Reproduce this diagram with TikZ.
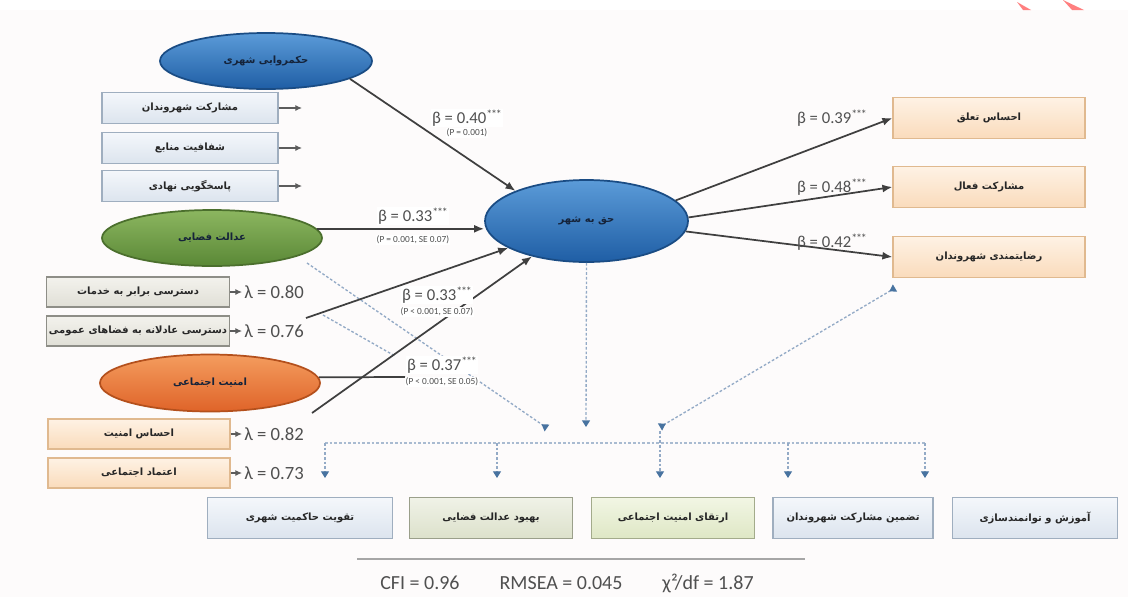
\documentclass[tikz,border=0pt]{standalone}
\usepackage{fontspec}
\setmainfont{Carlito}
\newfontfamily\fa[Script=Arabic]{DejaVu Sans}
\TeXXeTstate=1
\usetikzlibrary{shapes.geometric,arrows.meta}
\newdimen\pxu
\pxu=0.75pt
\newcommand{\fat}[1]{\beginR #1\endR}
\newcommand{\stars}{\raisebox{0.28em}{\fontsize{9}{9}\selectfont *\kern-0.1em*\kern-0.1em*}}
\definecolor{bgpink}{HTML}{FDFBFB}
\definecolor{txtdark}{HTML}{15233A}
\definecolor{txtgray}{HTML}{505050}
\definecolor{lingray}{HTML}{3F3F3F}
\definecolor{dotblue}{HTML}{93AAC6}
\definecolor{tipblue}{HTML}{4873A0}
\definecolor{blueT}{HTML}{5B9BD8}
\definecolor{blueB}{HTML}{1F5EA5}
\definecolor{blueD}{HTML}{1A4C84}
\definecolor{grnT}{HTML}{8CB660}
\definecolor{grnB}{HTML}{5A8836}
\definecolor{grnD}{HTML}{4B6F2D}
\definecolor{orgT}{HTML}{F49C5E}
\definecolor{orgB}{HTML}{DF6329}
\definecolor{orgD}{HTML}{B4501C}
\definecolor{lbT}{HTML}{F4F7FB}
\definecolor{lbB}{HTML}{DCE4EE}
\definecolor{lbD}{HTML}{9FAEBF}
\definecolor{gyT}{HTML}{F3F2ED}
\definecolor{gyB}{HTML}{E0DFD6}
\definecolor{gyD}{HTML}{8E8E87}
\definecolor{loT}{HTML}{FEF2E4}
\definecolor{loB}{HTML}{FADBBB}
\definecolor{loD}{HTML}{E0B98F}
\definecolor{lgT}{HTML}{F0F2E7}
\definecolor{lgB}{HTML}{DCE1CB}
\definecolor{lgD}{HTML}{9A9F8A}
\definecolor{lg2T}{HTML}{F2F6E4}
\definecolor{lg2B}{HTML}{DEE7C5}
\definecolor{lg2D}{HTML}{A3AB8B}
\definecolor{redmark}{HTML}{FF7F7F}
\tikzset{
  ell/.style={ellipse, inner sep=0pt, line width=1.3pt, text=txtdark,
    font=\fa\bfseries\fontsize{7.5}{8.5}\selectfont},
  blueell/.style={ell, draw=blueD, top color=blueT, bottom color=blueB},
  grnell/.style={ell, draw=grnD, top color=grnT, bottom color=grnB},
  orgell/.style={ell, draw=orgD, top color=orgT, bottom color=orgB},
  pbox/.style={rectangle, inner sep=0pt, line width=0.9pt, text=black!85,
    font=\fa\bfseries\fontsize{7.5}{9}\selectfont},
  lbbox/.style={pbox, draw=lbD, top color=lbT, bottom color=lbB},
  gybox/.style={pbox, draw=gyD, top color=gyT, bottom color=gyB},
  lobox/.style={pbox, draw=loD, top color=loT, bottom color=loB},
  lgbox/.style={pbox, draw=lgD, top color=lgT, bottom color=lgB},
  lg2box/.style={pbox, draw=lg2D, top color=lg2T, bottom color=lg2B},
  beta/.style={font=\fontsize{12.5}{14}\selectfont, text=txtgray, inner sep=1pt},
  betaw/.style={beta, fill=white},
  sub/.style={font=\fontsize{7}{8}\selectfont, text=txtgray, inner sep=0.6pt, fill=white},
  lam/.style={font=\fontsize{14}{16}\selectfont, text=txtgray, inner sep=0pt, anchor=west},
  arr/.style={draw=lingray, line width=1.3pt, -{Latex[length=7.5pt,width=6pt]}},
  smallarr/.style={draw=lingray!85, line width=0.8pt, -{Latex[length=5pt,width=4.5pt]}},
  plainln/.style={draw=lingray, line width=1.3pt},
  dotl/.style={draw=dotblue, line width=1pt, dash pattern=on 2pt off 1.5pt},
  dtip/.style={-{Triangle[length=5pt,width=6pt,color=tipblue]}},
  rtip/.style={-{Triangle[length=5pt,width=6pt,color=tipblue,reversed]}},
  brtip/.style={{Triangle[length=5pt,width=6pt,color=tipblue,reversed]}-{Triangle[length=5pt,width=6pt,color=tipblue,reversed]}},
}
\begin{document}
\begin{tikzpicture}[x=0.75pt,y=-0.75pt]
\useasboundingbox (0,0) rectangle (1128,597);
\fill[white] (0,0) rectangle (1128,597);
\fill[bgpink] (0,10) rectangle (1128,597);
\fill[redmark] (1017,2) -- (1031,10) -- (1023,10) -- cycle;
\fill[redmark] (1063,0) -- (1084,10) -- (1072,10) -- cycle;

% ---------- left column ----------
\node[blueell, minimum width=212\pxu, minimum height=56\pxu] (gov) at (266,61) {\fat{حکمروایی شهری}};
\node[lbbox, minimum width=176\pxu, minimum height=31\pxu] (b1) at (190,108) {\fat{مشارکت شهروندان}};
\node[lbbox, minimum width=176\pxu, minimum height=31\pxu] (b2) at (190,148) {\fat{شفافیت منابع}};
\node[lbbox, minimum width=176\pxu, minimum height=31\pxu] (b3) at (190,186) {\fat{پاسخگویی نهادی}};
\coordinate (b1e) at (302,108);
\coordinate (b2e) at (302,148);
\coordinate (b3e) at (302,186);

\node[grnell, minimum width=220\pxu, minimum height=56\pxu] (sj) at (212,238) {\fat{عدالت فضایی}};
\node[gybox, minimum width=183\pxu, minimum height=30\pxu] (g1) at (138,292) {\fat{دسترسی برابر به خدمات}};
\node[gybox, minimum width=183\pxu, minimum height=30\pxu] (g2) at (138,331) {\fat{دسترسی عادلانه به فضاهای عمومی}};
\node[lam] (l1) at (244,292) {λ = 0.80};
\node[lam] (l2) at (244,331) {λ = 0.76};

\node[orgell, minimum width=220\pxu, minimum height=57\pxu] (ss) at (210,383) {\fat{امنیت اجتماعی}};
\node[lobox, minimum width=182\pxu, minimum height=30\pxu] (o1) at (139,434) {\fat{احساس امنیت}};
\node[lobox, minimum width=182\pxu, minimum height=30\pxu] (o2) at (139,473) {\fat{اعتماد اجتماعی}};
\node[lam] (l3) at (244,434) {λ = 0.82};
\node[lam] (l4) at (244,473) {λ = 0.73};

% ---------- centre and right ----------
\node[blueell, minimum width=203\pxu, minimum height=82\pxu] (rc) at (586.5,221) {\fat{حق به شهر}};
\node[lobox, minimum width=192\pxu, minimum height=41\pxu] (r1) at (989,118) {\fat{احساس تعلق}};
\node[lobox, minimum width=192\pxu, minimum height=41\pxu] (r2) at (989,187) {\fat{مشارکت فعال}};
\node[lobox, minimum width=192\pxu, minimum height=41\pxu] (r3) at (989,257) {\fat{رضایتمندی شهروندان}};

% ---------- bottom row ----------
\node[lbbox, minimum width=185\pxu, minimum height=41\pxu] (k1) at (300,518) {\fat{تقویت حاکمیت شهری}};
\node[lgbox, minimum width=163\pxu, minimum height=41\pxu] (k2) at (491,518) {\fat{بهبود عدالت فضایی}};
\node[lg2box, minimum width=163\pxu, minimum height=41\pxu] (k3) at (673,518) {\fat{ارتقای امنیت اجتماعی}};
\node[lbbox, minimum width=160\pxu, minimum height=41\pxu] (k4) at (853,518) {\fat{تضمین مشارکت شهروندان}};
\node[lbbox, minimum width=165\pxu, minimum height=41\pxu] (k5) at (1035,518) {\fat{آموزش و توانمندسازی}};

% ---------- coordinates for free ends ----------
\coordinate (c76) at (306,318);
\coordinate (c82) at (312,413);
\coordinate (e37) at (405,377);
\coordinate (d1s) at (307,263);
\coordinate (d2s) at (323,315);
\coordinate (d2e) at (395,356);
\coordinate (hub1) at (547,428);
\coordinate (hub2) at (586,427);
\coordinate (hub3) at (660,427);
\coordinate (r3tip) at (895,288);
\coordinate (busL) at (325,443);
\coordinate (busR) at (925,443);
\coordinate (t1) at (325,478);
\coordinate (t2) at (497,478);
\coordinate (t3) at (660,478);
\coordinate (t4) at (788,478);
\coordinate (t5) at (925,478);

% ---------- small indicator arrows ----------
\draw[smallarr] (b1.east) -- (b1e);
\draw[smallarr] (b2.east) -- (b2e);
\draw[smallarr] (b3.east) -- (b3e);
\draw[smallarr, shorten >=1.5pt] (g1.east) -- (l1.west);
\draw[smallarr, shorten >=1.5pt] (g2.east) -- (l2.west);
\draw[smallarr, shorten >=1.5pt] (o1.east) -- (l3.west);
\draw[smallarr, shorten >=1.5pt] (o2.east) -- (l4.west);

% ---------- dotted links ----------
\draw[dotl, rtip] (d1s) -- (hub1);
\draw[dotl] (d2s) -- (d2e);
\draw[dotl, dtip] (rc.south) -- (hub2);
\draw[dotl, brtip] (r3tip) -- (hub3);
\draw[dotl, line width=0.8pt, draw=dotblue!80] (busL) -- (busR);
\draw[dotl, dtip, line width=0.8pt] (busL) -- (t1);
\draw[dotl, dtip, line width=0.8pt] (busL -| t2) -- (t2);
\draw[dotl, dtip, line width=0.8pt] ([yshift=-3pt]hub3) -- (t3);
\draw[dotl, dtip, line width=0.8pt] (busL -| t4) -- (t4);
\draw[dotl, dtip, line width=0.8pt] (busR) -- (t5);

% ---------- structural paths ----------
\draw[arr] (gov.-12) -- (rc.157);
\draw[arr] (sj.5) -- (sj.5 -| rc.west);
\draw[arr] (c76) -- (rc.199);
\draw[arr] (c82) -- (rc.213);
\draw[plainln] (ss.3) -- (e37);
\draw[arr] (rc.13) -- (r1.west);
\draw[arr] (rc.2) -- (r2.west);
\draw[arr] (rc.-6) -- (r3.west);

% ---------- path labels ----------
\node[betaw] (L40) at (467,118) {β = 0.40\stars};
\node[sub] (S40) at (467,133) {(P = 0.001)};
\node[betaw] (L33a) at (413,216) {β = 0.33\stars};
\node[sub] (S33a) at (413,240) {(P = 0.001, SE 0.07)};
\node[betaw] (L33b) at (437,295) {β = 0.33\stars};
\node[sub] (S33b) at (437,312) {(P < 0.001, SE 0.07)};
\node[betaw] (L37) at (442,365) {β = 0.37\stars};
\node[sub] (S37) at (442,382) {(P < 0.001, SE 0.05)};
\node[beta] (L39) at (832,118) {β = 0.39\stars};
\node[beta] (L48) at (832,187) {β = 0.48\stars};
\node[beta] (L42) at (832,242) {β = 0.42\stars};

% ---------- fit indices ----------
\draw[draw=black!35, line width=0.8pt] (357,559) -- (805,559);
\node[font=\fontsize{15}{17}\selectfont, text=txtgray, inner sep=0pt] (fit) at (567,583)
  {CFI = 0.96\hspace{2em}RMSEA = 0.045\hspace{2em}χ²/df = 1.87};
\end{tikzpicture}
\end{document}
